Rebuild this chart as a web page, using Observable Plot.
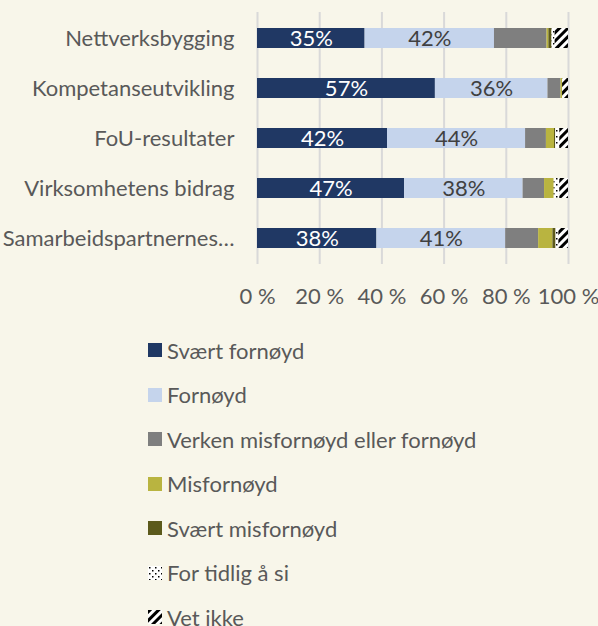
<!DOCTYPE html>
<html><head><meta charset="utf-8">
<script src="https://cdn.jsdelivr.net/npm/d3@7"></script>
<script src="https://cdn.jsdelivr.net/npm/@observablehq/plot@0.6"></script>
<style>
html,body{margin:0;padding:0;background:#f8f6ea;font-family:Lato,sans-serif;overflow:hidden;}
#legend{padding-top:8px;padding-left:148px;}
.item{height:44.5px;display:flex;align-items:center;font-size:22px;color:#595959;}
.item svg{margin-right:5px;flex:none;}
</style></head><body>
<div id="chart"></div><div id="legend"></div>
<script>
const categories = ["Nettverksbygging","Kompetanseutvikling","FoU-resultater","Virksomhetens bidrag","Samarbeidspartnernes…"];
const responses = ["Svært fornøyd","Fornøyd","Verken misfornøyd eller fornøyd","Misfornøyd","Svært misfornøyd","For tidlig å si","Vet ikke"];
const colors = ["#203864","#c5d4ec","#7f7f7f","#b9b440","#5c5a1c","url(#dots)","url(#hatch)"];
const svaertFornoyd    = [34.6, 57.2, 41.8, 47.3, 38.4];
const fornoyd          = [41.6, 36.2, 44.4, 38.1, 41.4];
const verken           = [16.9,  4.2,  6.7,  6.9, 10.6];
const misfornoyd       = [ 0.6,  0.5,  2.6,  3.1,  4.6];
const svaertMisfornoyd = [ 1.0,  0.0,  0.4,  0.0,  1.0];
const forTidlig        = [ 1.0,  0.0,  1.3,  1.8,  0.9];
const vetIkke          = [ 4.3,  1.9,  2.8,  2.8,  3.1];
const xTicks = [0, 20, 40, 60, 80, 100];

const series = [svaertFornoyd, fornoyd, verken, misfornoyd, svaertMisfornoyd, forTidlig, vetIkke];
const data = [];
series.forEach((vals, si) => vals.forEach((v, ci) => data.push({category: categories[ci], response: responses[si], value: v})));
const labelData = data.filter(d => d.response === responses[0] || d.response === responses[1]);

const plot = Plot.plot({
  width: 598, height: 320,
  marginLeft: 257, marginRight: 30, marginTop: 12, marginBottom: 56,
  style: {background: "transparent", fontFamily: "Lato, sans-serif", fontSize: "22px", color: "#595959"},
  x: {domain: [0, 100], ticks: xTicks, tickFormat: d => d + " %", tickSize: 0, tickPadding: 24, label: null},
  y: {domain: categories, paddingInner: 0.6, paddingOuter: 0.3, tickSize: 0, tickPadding: 23, label: null},
  color: {domain: responses, range: colors},
  marks: [
    Plot.gridX(xTicks, {stroke: "#d9d9d9", strokeOpacity: 1, strokeWidth: 2}),
    Plot.barX(data, Plot.stackX({x: "value", y: "category", fill: "response"})),
    Plot.text(labelData, Plot.stackX({
      x: "value", y: "category",
      text: d => Math.round(d.value) + "%",
      fill: d => d.response === responses[0] ? "#ffffff" : "#404040",
      fontSize: 22
    }))
  ]
});
d3.select(plot).insert("defs", ":first-child").html(`
<pattern id="dots" patternUnits="userSpaceOnUse" width="6" height="6"><rect width="6" height="6" fill="white"/><rect x="1" y="1" width="1.5" height="1.5" fill="black"/><rect x="4" y="4" width="1.5" height="1.5" fill="black"/></pattern>
<pattern id="hatch" patternUnits="userSpaceOnUse" width="6" height="6" patternTransform="rotate(45)"><rect width="6" height="6" fill="white"/><rect width="3" height="6" fill="black"/></pattern>`);
document.getElementById("chart").appendChild(plot);

const legend = d3.select("#legend");
responses.forEach((r, i) => {
  const item = legend.append("div").attr("class", "item");
  item.append("svg").attr("width", 14).attr("height", 14)
    .append("rect").attr("width", 14).attr("height", 14).attr("fill", colors[i]);
  item.append("span").text(r);
});
</script>
</body></html>
